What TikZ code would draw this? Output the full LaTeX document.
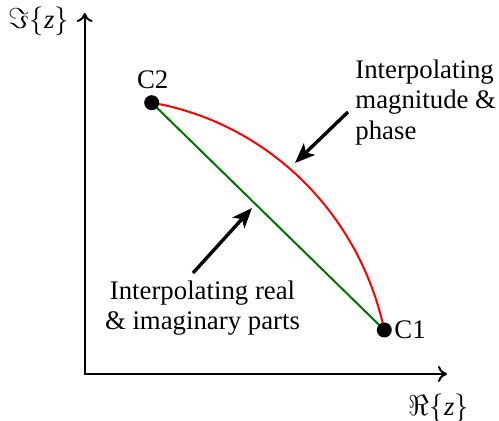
\documentclass[tikz,border=0pt]{standalone}
\usepackage{fontspec}
\setmainfont{Liberation Serif}
\usetikzlibrary{arrows.meta}
\begin{document}
\begin{tikzpicture}[x=0.5pt,y=-0.5pt,
  font=\fontsize{13.4pt}{15.25pt}\selectfont,
  axis/.style={line width=1pt,black,{Computer Modern Rightarrow[length=4.5pt,width=8pt]}-{Computer Modern Rightarrow[length=4.5pt,width=8pt]}},
  pointer/.style={line width=1.7pt,black,-{Stealth[length=10pt,width=8pt,inset=2.5pt]}},
  dot/.style={circle,fill=black,inner sep=0pt,minimum size=7.5pt},
  txt/.style={inner sep=0pt}]
\useasboundingbox (0,0) rectangle (499,421);
\coordinate (O) at (84.7,374);
\coordinate (ytip) at (84.7,13);
\coordinate (xtip) at (447,374);
\draw[axis] (ytip) -- (O) -- (xtip);
\node[txt] (imlab) at (39,21) {$\Im\{$\textit{z}$\}$};
\node[txt] (relab) at (439,408) {$\Re\{$\textit{z}$\}$};
\coordinate (c1) at (384.3,330);
\coordinate (c2) at (151.7,102.7);
\draw[line width=1pt,green!45!black] (c2) -- (c1);
\draw[line width=1pt,red] plot[domain=0:1,samples=80,smooth]
  ({84.7+(302.8-23.3*\x)*cos(8.35+67.78*\x)},{374-(302.8-23.3*\x)*sin(8.35+67.78*\x)});
\node[dot] (d1) at (c1) {};
\node[dot] (d2) at (c2) {};
\node[txt] (l2) at (152.7,80) {C2};
\node[txt,anchor=west] (l1) at (394,330) {C1};
\node[txt,align=left,anchor=west] (rt) at (355,102.5) {Interpolating\\magnitude \&\\phase};
\node[txt,align=center] (lt) at (202.5,308) {Interpolating real\\\& imaginary parts};
\coordinate (a1s) at (348,112);
\coordinate (a1e) at (295,163);
\coordinate (a2s) at (193,273);
\coordinate (a2e) at (252,208);
\draw[pointer] (a1s) -- (a1e);
\draw[pointer] (a2s) -- (a2e);
\end{tikzpicture}
\end{document}
